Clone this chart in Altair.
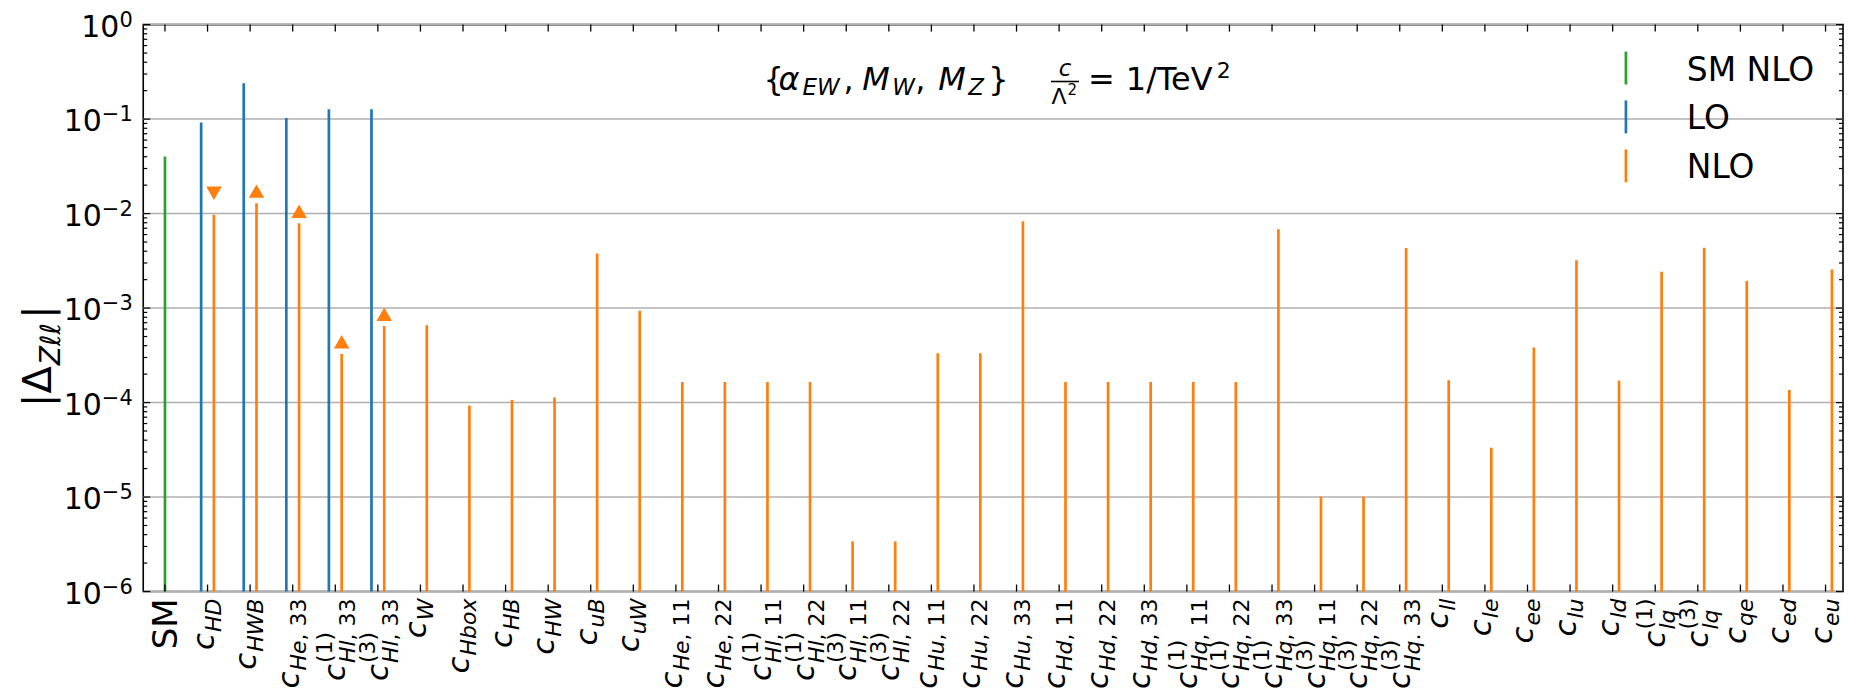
import altair as alt
import pandas as pd

# ---------------- data ----------------
sub_letters = ["", "HD", "HWB", "He", "Hl", "Hl", "W", "Hbox", "HB", "HW", "uB", "uW",
               "He", "He", "Hl", "Hl", "Hl", "Hl", "Hu", "Hu", "Hu", "Hd", "Hd", "Hd",
               "Hq", "Hq", "Hq", "Hq", "Hq", "Hq", "ll", "le", "ee", "lu", "ld", "lq", "lq",
               "qe", "ed", "eu"]
sub_tails = ["", "", "", ", 33", ", 33", ", 33", "", "", "", "", "", "",
             ", 11", ", 22", ", 11", ", 22", ", 11", ", 22", ", 11", ", 22", ", 33",
             ", 11", ", 22", ", 33", ", 11", ", 22", ", 33", ", 11", ", 22", ". 33",
             "", "", "", "", "", "", "", "", "", ""]
sups = ["", "", "", "", "(1)", "(3)", "", "", "", "", "", "",
        "", "", "(1)", "(1)", "(3)", "(3)", "", "", "", "", "", "",
        "(1)", "(1)", "(1)", "(3)", "(3)", "(3)", "", "", "", "", "", "(1)", "(3)",
        "", "", ""]

sm_index = [0]
sm_nlo = [0.0401]

lo_index = [1, 2, 3, 4, 5]
lo_values = [0.092, 0.240, 0.1028, 0.1274, 0.1274]

nlo_index = list(range(1, 40))
nlo_values = [0.0097, 0.01286, 0.00792, 3.27e-4, 6.45e-4, 6.57e-4, 9.29e-5, 1.067e-4,
              1.13e-4, 3.79e-3, 9.37e-4, 1.65e-4, 1.65e-4, 1.65e-4, 1.65e-4, 3.39e-6,
              3.39e-6, 3.33e-4, 3.33e-4, 8.3e-3, 1.65e-4, 1.65e-4, 1.65e-4, 1.65e-4,
              1.65e-4, 6.82e-3, 1.01e-5, 1.01e-5, 4.32e-3, 1.72e-4, 3.33e-5, 3.83e-4,
              3.21e-3, 1.71e-4, 2.43e-3, 4.36e-3, 1.94e-3, 1.36e-4, 2.56e-3]

marker_index = [1, 2, 3, 4, 5]
marker_values = [0.0164, 0.0173, 0.01057, 4.4e-4, 8.6e-4]
marker_dir = ["down", "up", "up", "up", "up"]

decades = [1e-6, 1e-5, 1e-4, 1e-3, 1e-2, 1e-1, 1.0]
decade_exps = ["−6", "−5", "−4", "−3", "−2", "−1", "0"]
minor_ticks = [k * 10.0 ** e for e in range(-6, 0) for k in range(2, 10)]

legend_labels = ["SM NLO", "LO", "NLO"]

# ---------------- layout helpers ----------------
W, H = 1703, 568
GREEN, BLUE, ORANGE = "#2ca02c", "#1f77b4", "#ff7f0e"
FONT = "DejaVu Sans"

xs = alt.Scale(domain=[-0.51, 39.41], nice=False, zero=False)
ys = alt.Scale(type="log", domain=[1e-6, 1], nice=False)

ADV = {'c': 0.550, 'H': 0.752, 'D': 0.770, 'W': 0.989, 'B': 0.686, 'e': 0.615, 'l': 0.278,
       'u': 0.634, 'd': 0.635, 'q': 0.635, 'b': 0.635, 'o': 0.612, 'x': 0.592, ',': 0.318,
       ' ': 0.318, '.': 0.318, '1': 0.636, '2': 0.636, '3': 0.636, '(': 0.390, ')': 0.390,
       'S': 0.635, 'M': 0.863, 'Z': 0.685, 'Δ': 0.684, 'ℓ': 0.417, '|': 0.337, '0': 0.636,
       '−': 0.838}


def tw(s, size):
    return sum(ADV.get(ch, 0.6) for ch in s) * size


MC, SS = 31, 22          # main "c" size, script size
Y0 = 575                 # label top (plot-relative px)

rows = []
for i in range(1, 40):
    wc = tw("c", MC) + 1
    wl = tw(sub_letters[i], SS)
    wt = tw(sub_tails[i], SS)
    wsup = tw(sups[i], SS)
    L = wc + max(wl + wt, wsup)
    yc = Y0 + L
    ysub = yc - wc
    rows.append(dict(idx=i, letters=sub_letters[i], tail=sub_tails[i], sup=sups[i],
                     has_sup=bool(sups[i]), yc=yc, ysub=ysub, ytail=ysub - wl))
lab = pd.DataFrame(rows)

X = alt.X("idx:Q", scale=xs, axis=None)

layers = []

# grid
grid_df = pd.DataFrame({"v": decades})
layers.append(alt.Chart(grid_df).mark_rule(color="#b0b0b0", strokeWidth=1.5).encode(
    y=alt.Y("v:Q", scale=ys, axis=None), x=alt.value(0), x2=alt.value(W)))

# vertical lines
sm_df = pd.DataFrame({"idx": sm_index, "v": sm_nlo})
lo_df = pd.DataFrame({"idx": lo_index, "v": lo_values})
nlo_df = pd.DataFrame({"idx": nlo_index, "v": nlo_values})
layers.append(alt.Chart(sm_df).mark_rule(color=GREEN, strokeWidth=2.7).encode(
    x=X, y=alt.Y("v:Q", scale=ys, axis=None), y2=alt.value(H)))
layers.append(alt.Chart(lo_df).transform_calculate(xp="datum.idx - 0.15").mark_rule(
    color=BLUE, strokeWidth=2.7).encode(
    x=alt.X("xp:Q", scale=xs, axis=None), y=alt.Y("v:Q", scale=ys, axis=None), y2=alt.value(H)))
layers.append(alt.Chart(nlo_df).transform_calculate(xp="datum.idx + 0.15").mark_rule(
    color=ORANGE, strokeWidth=2.7).encode(
    x=alt.X("xp:Q", scale=xs, axis=None), y=alt.Y("v:Q", scale=ys, axis=None), y2=alt.value(H)))

# triangle markers
mk_df = pd.DataFrame({"idx": marker_index, "v": marker_values, "dir": marker_dir})
for d, shp in [("up", "triangle-up"), ("down", "triangle-down")]:
    layers.append(alt.Chart(mk_df).transform_filter(alt.datum.dir == d).transform_calculate(
        xp="datum.idx + 0.15").mark_point(shape=shp, filled=True, color=ORANGE, opacity=1,
                                          size=240).encode(
        x=alt.X("xp:Q", scale=xs, axis=None), y=alt.Y("v:Q", scale=ys, axis=None)))

# ticks (inward, all four sides)
tick_df = pd.DataFrame({"idx": list(range(40))})
layers.append(alt.Chart(tick_df).mark_rule(color="black", strokeWidth=1.3).encode(
    x=X, y=alt.value(H - 7), y2=alt.value(H)))
layers.append(alt.Chart(tick_df).mark_rule(color="black", strokeWidth=1.3).encode(
    x=X, y=alt.value(0), y2=alt.value(7)))
maj_df = pd.DataFrame({"v": decades})
min_df = pd.DataFrame({"v": minor_ticks})
for df, ln in [(maj_df, 7), (min_df, 4)]:
    layers.append(alt.Chart(df).mark_rule(color="black", strokeWidth=1.2).encode(
        y=alt.Y("v:Q", scale=ys, axis=None), x=alt.value(0), x2=alt.value(ln)))
    layers.append(alt.Chart(df).mark_rule(color="black", strokeWidth=1.2).encode(
        y=alt.Y("v:Q", scale=ys, axis=None), x=alt.value(W - ln), x2=alt.value(W)))

# y tick labels 10^k
ytl = pd.DataFrame({"v": decades, "e": decade_exps})
layers.append(alt.Chart(ytl).mark_text(font=FONT, fontSize=21, align="right",
                                       baseline="alphabetic", dy=2).encode(
    y=alt.Y("v:Q", scale=ys, axis=None), x=alt.value(-10.5), text="e:N"))
for cond, ew in [(alt.datum.e == "0", tw("0", 21)), (alt.datum.e != "0", tw("−1", 21))]:
    layers.append(alt.Chart(ytl).transform_filter(cond).transform_calculate(t="'10'").mark_text(
        font=FONT, fontSize=30, align="right", baseline="alphabetic", dy=12).encode(
        y=alt.Y("v:Q", scale=ys, axis=None), x=alt.value(-10.5 - ew), text="t:N"))

# x tick labels (rotated, c with sub/sup scripts)
sm_lab = pd.DataFrame({"idx": [0], "t": ["SM"]})
layers.append(alt.Chart(sm_lab).mark_text(font=FONT, fontSize=34, angle=270, align="right",
                                          baseline="alphabetic", dy=12).encode(
    x=X, y=alt.value(Y0), text="t:N"))
for has, dc, dsub in [(False, 6, 13), (True, 10, 20)]:
    base = alt.Chart(lab).transform_filter(alt.datum.has_sup == has)
    layers.append(base.transform_calculate(t="'c'").mark_text(
        font=FONT, fontSize=MC, fontStyle="italic", angle=270, align="left",
        baseline="alphabetic", dy=dc).encode(
        x=X, y=alt.Y("yc:Q", scale=None, axis=None), text="t:N"))
    layers.append(base.mark_text(
        font=FONT, fontSize=SS, fontStyle="italic", angle=270, align="left",
        baseline="alphabetic", dy=dsub).encode(
        x=X, y=alt.Y("ysub:Q", scale=None, axis=None), text="letters:N"))
    layers.append(base.mark_text(
        font=FONT, fontSize=SS, angle=270, align="left",
        baseline="alphabetic", dy=dsub).encode(
        x=X, y=alt.Y("ytail:Q", scale=None, axis=None), text="tail:N"))
layers.append(alt.Chart(lab).transform_filter(alt.datum.has_sup == True).mark_text(
    font=FONT, fontSize=SS, angle=270, align="left", baseline="alphabetic", dy=-3).encode(
    x=X, y=alt.Y("ysub:Q", scale=None, axis=None), text="sup:N"))

# y axis title |Δ_{Zℓℓ}|
TX, TY, TM, TS = -92, 383, 40, 28
t1 = "|Δ"
t2 = "Zℓℓ"
y_t2 = TY - tw(t1, TM) - 1
y_t3 = y_t2 - tw(t2, TS) - 4
for txt, yy, fs, dyy, sty in [(t1, TY, TM, 0, "normal"), (t2, y_t2, TS, 9, "italic"),
                              ("|", y_t3, TM, 0, "normal")]:
    layers.append(alt.Chart(pd.DataFrame({"t": [txt]})).mark_text(
        font=FONT, fontSize=fs, fontStyle=sty, angle=270, align="left",
        baseline="alphabetic", dy=dyy).encode(
        x=alt.value(TX), y=alt.value(yy), text="t:N"))

# annotation {α_EW, M_W, M_Z}   c/Λ² = 1/TeV²
BL = 65.3
AM, AS = 32, 23
ann = [("{", 621.5, BL, AM, "normal"), ("α", 636.5, BL, AM, "italic"),
       ("EW", 660.5, BL + 5, AS, "italic"), (",", 701.5, BL, AM, "normal"),
       ("M", 720.5, BL, AM, "italic"), ("W", 750.5, BL + 5, AS, "italic"),
       (",", 773.5, BL, AM, "normal"), ("M", 796.5, BL, AM, "italic"),
       ("Z", 826.5, BL + 5, AS, "italic"), ("}", 846.5, BL, AM, "normal"),
       ("=", 946.5, BL, AM, "normal"), ("1/TeV", 984.5, BL, AM, "normal"),
       ("2", 1075.5, BL - 12, 22, "normal"), ("Λ", 910, 80, 22, "normal"),
       ("2", 926, 71, 15, "normal")]
for txt, xx, yy, fs, sty in ann:
    layers.append(alt.Chart(pd.DataFrame({"t": [txt]})).mark_text(
        font=FONT, fontSize=fs, fontStyle=sty, align="left", baseline="alphabetic").encode(
        x=alt.value(xx), y=alt.value(yy), text="t:N"))
layers.append(alt.Chart(pd.DataFrame({"t": ["c"]})).mark_text(
    font=FONT, fontSize=23, fontStyle="italic", align="center", baseline="alphabetic").encode(
    x=alt.value(923.5), y=alt.value(51), text="t:N"))
layers.append(alt.Chart(pd.DataFrame({"t": ["bar"]})).mark_rule(color="black", strokeWidth=1.6).encode(
    x=alt.value(909.5), x2=alt.value(937.5), y=alt.value(57)))

# legend
for lbl, col, y1, y2, yb in [(legend_labels[0], GREEN, 27, 60, 56),
                             (legend_labels[1], BLUE, 76, 109, 105),
                             (legend_labels[2], ORANGE, 125, 158, 154)]:
    layers.append(alt.Chart(pd.DataFrame({"t": [lbl]})).mark_rule(color=col, strokeWidth=2.7).encode(
        x=alt.value(1485.5), y=alt.value(y1), y2=alt.value(y2)))
    layers.append(alt.Chart(pd.DataFrame({"t": [lbl]})).mark_text(
        font=FONT, fontSize=33, align="left", baseline="alphabetic").encode(
        x=alt.value(1546.5), y=alt.value(yb), text="t:N"))

chart = alt.layer(*layers).properties(
    width=W, height=H,
    padding={"left": 135.5, "top": 16, "right": 2, "bottom": 100},
    autosize=alt.AutoSizeParams(type="none"),
).configure_view(stroke="black", strokeWidth=1.6)

chart.save("out.html", embed_options={"renderer": "svg", "actions": False})
